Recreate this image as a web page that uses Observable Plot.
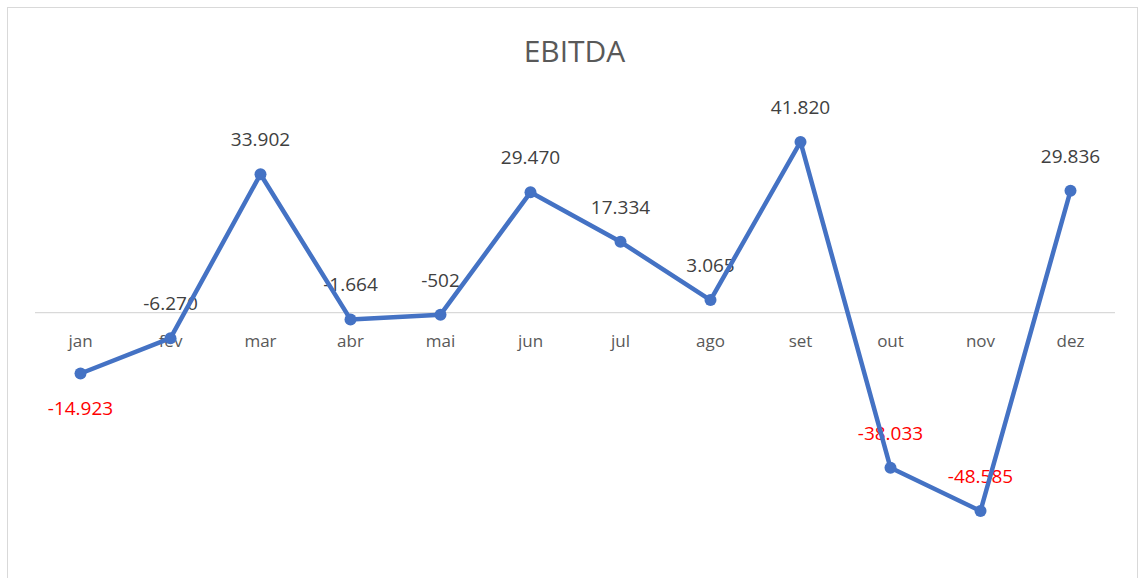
<!DOCTYPE html>
<html>
<head>
<meta charset="utf-8">
<script src="https://cdn.jsdelivr.net/npm/d3@7"></script>
<script src="https://cdn.jsdelivr.net/npm/@observablehq/plot@0.6"></script>
<style>
  html, body { margin: 0; padding: 0; background: #fff; }
  #chart { position: relative; width: 1141px; height: 578px; overflow: hidden; background: #fff; font-family: "Open Sans", sans-serif; }
  #frame { position: absolute; left: 7px; top: 7px; width: 1131px; height: 640px; border: 1px solid #d9d9d9; box-sizing: border-box; pointer-events: none; }
  #title { position: absolute; top: 36px; left: 4px; width: 1141px; text-align: center; font-size: 30px; line-height: 30px; color: #595959; font-weight: 400; }
  #plot { position: absolute; left: 0; top: 0; }
</style>
</head>
<body>
<div id="chart">
  <div id="frame"></div>
  <div id="title">EBITDA</div>
  <div id="plot"></div>
</div>
<script>
const months = ["jan", "fev", "mar", "abr", "mai", "jun", "jul", "ago", "set", "out", "nov", "dez"];
const ebitda = [-14923, -6270, 33902, -1664, -502, 29470, 17334, 3065, 41820, -38033, -48585, 29836];
const labelsBelow = ["jan"];

const data = months.map((m, i) => ({month: m, value: ebitda[i]}));
const fmt = d3.formatLocale({decimal: ",", thousands: ".", grouping: [3], currency: ["R$", ""], minus: "-"}).format(",d");

const labelColor = d => d.value < -10000 ? "#FF0000" : "#404040";

const plot = Plot.plot({
  width: 1141,
  height: 578,
  marginLeft: 35,
  marginRight: 26,
  marginTop: 108,
  marginBottom: 21,
  style: {fontFamily: "Open Sans, sans-serif", background: "transparent", overflow: "visible"},
  x: {type: "point", domain: months, padding: 0.5, axis: null},
  y: {domain: [-60000, 50000], axis: null},
  marks: [
    Plot.ruleY([0], {stroke: "#d9d9d9", strokeWidth: 1.3}),
    Plot.text(months, {x: d => d, y: () => 0, dy: 29, text: d => d, fill: "#595959", fontSize: 17, lineAnchor: "middle"}),
    Plot.text(data.filter(d => !labelsBelow.includes(d.month)), {x: "month", y: "value", text: d => fmt(d.value), dy: -28, lineAnchor: "bottom", fontSize: 19, fill: labelColor}),
    Plot.text(data.filter(d => labelsBelow.includes(d.month)), {x: "month", y: "value", text: d => fmt(d.value), dy: 41, lineAnchor: "bottom", fontSize: 19, fill: labelColor}),
    Plot.line(data, {x: "month", y: "value", stroke: "#4472C4", strokeWidth: 4.5, strokeLinejoin: "round", strokeLinecap: "round"}),
    Plot.dot(data, {x: "month", y: "value", r: 6, fill: "#4472C4", stroke: "none"})
  ]
});
document.getElementById("plot").appendChild(plot);
</script>
</body>
</html>
